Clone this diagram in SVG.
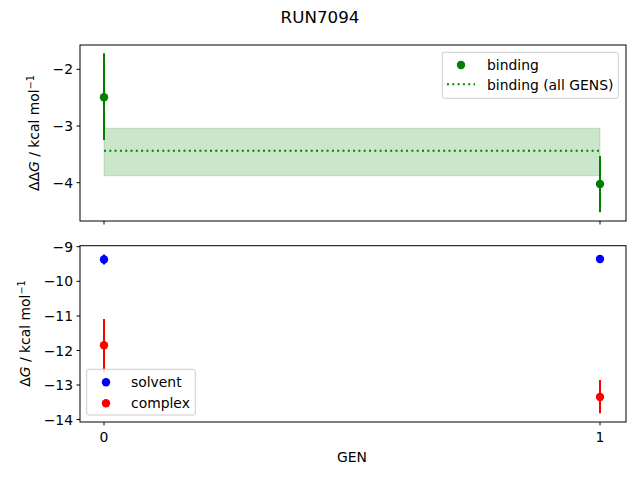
<svg xmlns="http://www.w3.org/2000/svg" width="640" height="480" viewBox="0 0 640 480">
<style>
text{font-family:"DejaVu Sans",sans-serif;font-size:13.9px;fill:#000}
.yt{text-anchor:end}
.xt{text-anchor:middle}
.ax{fill:none;stroke:#000;stroke-width:1}
.tk{stroke:#000;stroke-width:1}
.eg{stroke:#008000;stroke-width:2}
.eb{stroke:#0000ff;stroke-width:2}
.er{stroke:#ff0000;stroke-width:2}
.leg{fill:#fff;fill-opacity:0.8;stroke:#cccccc;stroke-width:1}
</style>
<rect width="640" height="480" fill="#fff"/>
<text x="320" y="22.7" class="xt" style="font-size:16.7px">RUN7094</text>

<g id="top-axes">
  <rect x="104" y="128.3" width="496" height="47.4" fill="#008000" fill-opacity="0.2" stroke="#008000" stroke-opacity="0.2"/>
  <line x1="104" y1="150.7" x2="600" y2="150.7" stroke="#008000" stroke-width="2" stroke-dasharray="2,3.3"/>
  <g id="binding-0">
    <line x1="104" y1="53.3" x2="104" y2="140" class="eg"/>
    <circle cx="104" cy="97.3" r="4.2" fill="#008000"/>
  </g>
  <g id="binding-1">
    <line x1="600" y1="156" x2="600" y2="212.3" class="eg"/>
    <circle cx="600" cy="184" r="4.2" fill="#008000"/>
  </g>
  <rect x="80" y="45" width="546" height="176" class="ax"/>
  <line x1="76.5" y1="69.3" x2="80" y2="69.3" class="tk"/>
  <line x1="76.5" y1="126" x2="80" y2="126" class="tk"/>
  <line x1="76.5" y1="182.7" x2="80" y2="182.7" class="tk"/>
  <text x="73" y="74.3" class="yt">−2</text>
  <text x="73" y="131" class="yt">−3</text>
  <text x="73" y="187.7" class="yt">−4</text>
  <line x1="104" y1="221" x2="104" y2="224.5" class="tk"/>
  <line x1="600" y1="221" x2="600" y2="224.5" class="tk"/>
  <text transform="translate(38.5,133) rotate(-90)" class="xt">ΔΔ<tspan font-style="italic">G</tspan> / kcal mol<tspan dy="-5" font-size="9.7px">−1</tspan></text>
  <g id="legend-top">
    <rect x="442.3" y="52.3" width="176" height="46" rx="2" class="leg"/>
    <circle cx="461" cy="65" r="4.2" fill="#008000"/>
    <text x="487" y="69.5">binding</text>
    <line x1="447" y1="84.3" x2="475" y2="84.3" stroke="#008000" stroke-width="2" stroke-dasharray="2,3.3"/>
    <text x="487" y="89.5">binding (all GENS)</text>
  </g>
</g>

<g id="bottom-axes">
  <g id="complex-0">
    <line x1="104" y1="319" x2="104" y2="372" class="er"/>
    <circle cx="104" cy="345.3" r="4.2" fill="#ff0000"/>
  </g>
  <g id="complex-1">
    <line x1="600" y1="380" x2="600" y2="413.3" class="er"/>
    <circle cx="600" cy="397" r="4.2" fill="#ff0000"/>
  </g>
  <g id="solvent-0">
    <line x1="104" y1="254.5" x2="104" y2="264.5" class="eb"/>
    <circle cx="104" cy="259.5" r="4.2" fill="#0000ff"/>
  </g>
  <g id="solvent-1">
    <line x1="600" y1="255.5" x2="600" y2="262.5" class="eb"/>
    <circle cx="600" cy="259" r="4.2" fill="#0000ff"/>
  </g>
  <rect x="80" y="245.7" width="546" height="176.3" class="ax"/>
  <line x1="76.5" y1="246.7" x2="80" y2="246.7" class="tk"/>
  <line x1="76.5" y1="281.3" x2="80" y2="281.3" class="tk"/>
  <line x1="76.5" y1="316" x2="80" y2="316" class="tk"/>
  <line x1="76.5" y1="350.5" x2="80" y2="350.5" class="tk"/>
  <line x1="76.5" y1="385" x2="80" y2="385" class="tk"/>
  <line x1="76.5" y1="419.5" x2="80" y2="419.5" class="tk"/>
  <text x="73" y="251.7" class="yt">−9</text>
  <text x="73" y="286.3" class="yt">−10</text>
  <text x="73" y="321" class="yt">−11</text>
  <text x="73" y="355.5" class="yt">−12</text>
  <text x="73" y="390" class="yt">−13</text>
  <text x="73" y="424.5" class="yt">−14</text>
  <line x1="104" y1="422" x2="104" y2="425.5" class="tk"/>
  <line x1="600" y1="422" x2="600" y2="425.5" class="tk"/>
  <text x="104" y="442" class="xt">0</text>
  <text x="600" y="442" class="xt">1</text>
  <text x="352" y="462" class="xt">GEN</text>
  <text transform="translate(29.5,333.5) rotate(-90)" class="xt">Δ<tspan font-style="italic">G</tspan> / kcal mol<tspan dy="-5" font-size="9.7px">−1</tspan></text>
  <g id="legend-bottom">
    <rect x="86.7" y="369.3" width="108.6" height="45.7" rx="2" class="leg"/>
    <circle cx="106" cy="382.3" r="4.2" fill="#0000ff"/>
    <text x="131" y="386.8">solvent</text>
    <circle cx="106" cy="403.3" r="4.2" fill="#ff0000"/>
    <text x="131" y="407.8">complex</text>
  </g>
</g>
</svg>
